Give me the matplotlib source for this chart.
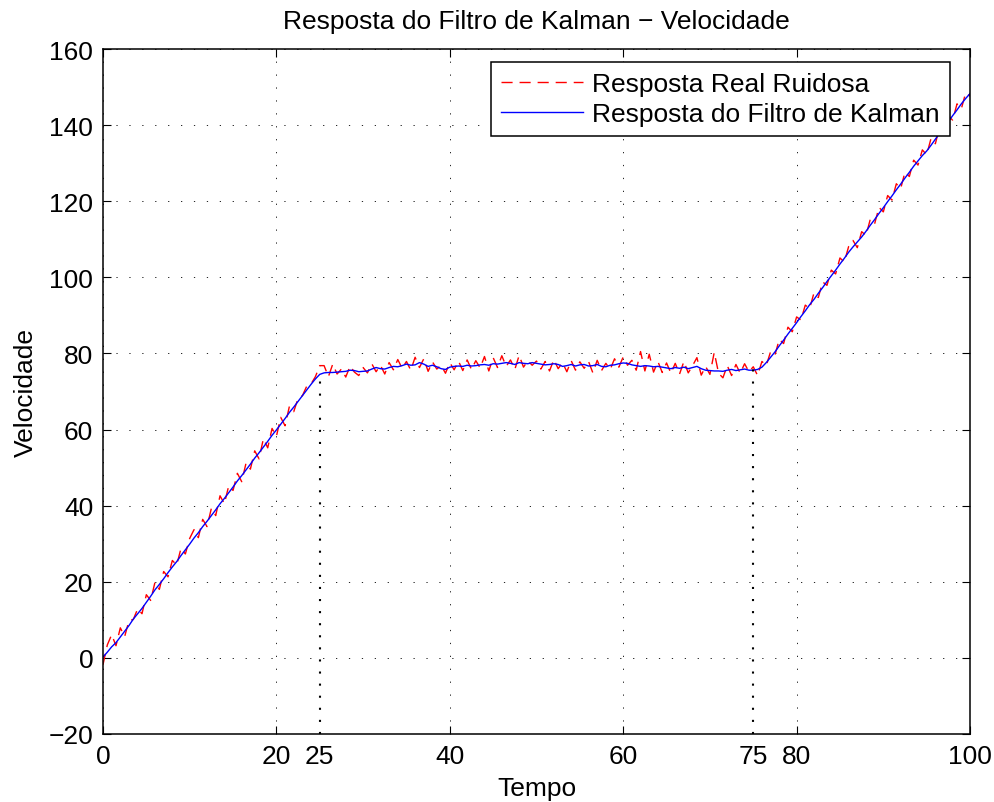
import numpy as np
import matplotlib
matplotlib.use("Agg")
import matplotlib.pyplot as plt

# ==================================================
# Data read off the reference (sampled every 0.5 s)
# ==================================================
noisy_ramp_up = [
    -1.8, 3.4, 6.1, 3.2, 7.9, 5.6, 9.8, 10.1, 12.9, 11.6,
    16.6, 15.1, 19.9, 18.0, 22.7, 21.3, 25.6, 24.4, 28.8, 27.3,
    31.4, 33.7, 31.6, 36.4, 34.5, 39.3, 37.4, 42.6, 40.5, 45.2,
    44.0, 48.5, 46.3, 51.2, 49.6, 54.4, 52.3, 57.6, 55.2, 60.3,
    58.2, 63.2, 61.0, 66.1, 64.7, 68.2, 68.9, 71.4, 72.0, 73.9,
    76.8,
]
noisy_plateau = [
    76.8, 73.9, 77.2, 74.6, 75.9, 73.8, 76.7, 75.1, 74.2, 76.3,
    74.9, 77.3, 75.2, 76.9, 74.6, 77.6, 75.7, 78.4, 76.1, 77.9,
    75.6, 79.0, 76.3, 78.6, 75.3, 77.8, 75.9, 76.9, 74.8, 77.6,
    75.7, 78.0, 75.5, 78.3, 75.8, 78.1, 76.2, 79.2, 75.4, 78.9,
    76.3, 79.4, 76.6, 78.3, 75.8, 79.5, 76.4, 78.1, 76.9, 78.0,
    75.9, 77.9, 75.4, 78.4, 76.0, 77.6, 75.2, 78.1, 75.6, 77.8,
    76.1, 77.9, 74.9, 78.2, 75.5, 77.4, 75.8, 78.6, 76.4, 79.1,
    76.9, 78.2, 75.6, 80.5, 75.4, 79.8, 75.1, 77.9, 75.0, 77.5,
    74.8, 77.4, 74.6, 77.9, 74.9, 76.8, 78.9, 74.3, 76.6, 74.5,
    80.3, 74.8, 73.6, 76.8, 74.2, 77.1, 74.8, 77.3, 75.2, 76.5,
]
noisy_ramp_2 = [
    74.2, 77.9, 76.8, 80.5, 79.6, 83.7, 82.6, 86.9, 85.7, 89.6,
    88.8, 92.7, 91.8, 95.9, 94.7, 98.8, 97.9, 101.9, 100.9, 105.1,
    104.0, 108.1, 109.7, 107.8, 112.0, 111.0, 115.3, 114.1, 118.4, 117.2,
    121.5, 120.3, 124.6, 123.3, 127.7, 126.5, 130.8, 129.5, 133.5, 132.2,
    136.5, 135.1, 139.6, 138.3, 142.4, 141.3, 145.6, 144.3, 148.5, 147.6,
]

kalman_ramp_up = [
    0.2, 1.5, 2.9, 4.0, 5.5, 7.0, 8.5, 10.2, 11.6, 13.0,
    14.6, 16.2, 17.9, 19.3, 20.8, 22.4, 23.9, 25.3, 26.9, 28.4,
    29.9, 31.5, 32.9, 34.5, 35.9, 37.4, 38.9, 40.5, 41.9, 43.4,
    44.9, 46.5, 47.9, 49.4, 50.9, 52.5, 53.9, 55.4, 56.9, 58.5,
    59.9, 61.4, 62.9, 64.5, 65.9, 67.4, 68.9, 70.4, 71.9, 73.3,
    74.5,
]
kalman_plateau = [
    74.9, 75.0, 75.0, 75.1, 75.2, 75.3, 75.6, 75.5, 75.2, 75.3,
    75.4, 75.9, 76.3, 76.0, 75.9, 76.3, 76.6, 76.5, 76.8, 77.2,
    76.9, 77.0, 77.6, 77.2, 76.6, 76.9, 76.5, 76.0, 75.8, 76.4,
    76.6, 76.7, 76.6, 76.9, 76.7, 76.8, 77.0, 77.1, 76.9, 77.3,
    77.2, 77.4, 77.6, 77.4, 77.1, 77.6, 77.4, 77.3, 77.6, 77.4,
    77.2, 77.0, 77.1, 77.3, 77.1, 76.6, 76.8, 77.1, 76.7, 77.0,
    77.1, 76.7, 76.8, 77.1, 76.6, 76.5, 76.9, 77.0, 77.3, 77.5,
    77.4, 77.0, 76.8, 76.6, 76.8, 76.7, 76.5, 76.6, 76.4, 76.2,
    76.0, 76.3, 76.1, 76.4, 76.0, 76.3, 76.6, 76.0, 75.6, 75.5,
    75.4, 75.4, 75.3, 75.6, 75.8, 75.5, 75.7, 75.9, 75.6, 75.6,
]
kalman_ramp_2 = [
    75.8, 76.4, 77.6, 79.0, 80.4, 82.0, 83.5, 85.1, 86.6, 88.1,
    89.7, 91.2, 92.8, 94.2, 95.8, 97.3, 98.9, 100.4, 101.9, 103.5,
    105.0, 106.6, 108.0, 109.3, 110.6, 112.1, 113.7, 115.2, 116.8, 118.3,
    119.9, 121.4, 123.0, 124.5, 126.1, 127.6, 129.2, 130.6, 132.0, 133.2,
    134.7, 136.3, 137.9, 139.4, 140.9, 142.5, 144.0, 145.6, 147.0, 148.3,
]

# marked instants (start / end of the plateau) and the speed there
mark_times = [25, 75]
mark_speeds = [75.0, 76.0]

x_ticks = [0, 20, 40, 60, 80, 100]
y_ticks = [-20, 0, 20, 40, 60, 80, 100, 120, 140, 160]


def main():
    plt.rcParams["font.family"] = ["Liberation Sans", "DejaVu Sans"]
    fs = 19

    t = np.linspace(0, 100, 201)
    v_noisy = np.concatenate([noisy_ramp_up, noisy_plateau, noisy_ramp_2])
    v_kalman = np.concatenate([kalman_ramp_up, kalman_plateau, kalman_ramp_2])

    fig = plt.figure(figsize=(9.95, 8.03), dpi=100)
    ax = fig.add_axes([0.1035, 0.0847, 0.8714, 0.853])

    ax.plot(t, v_noisy, color="red", linestyle=(0, (8, 5)), linewidth=1.0,
            label="Resposta Real Ruidosa")
    ax.plot(t, v_kalman, color="blue", linewidth=1.0,
            label="Resposta do Filtro de Kalman")

    # dotted markers at the plateau limits
    for tm, vm in zip(mark_times, mark_speeds):
        ax.plot([tm, tm], [-20, vm], color="black", linewidth=1.5,
                linestyle=(0, (1, 4.8)))

    ax.set_xlim(0, 100)
    ax.set_ylim(-20, 160)
    ax.set_xticks(x_ticks)
    ax.set_yticks(y_ticks)
    ax.set_xticks(mark_times, minor=True)
    ax.set_xticklabels([str(m) for m in mark_times], minor=True)
    ax.tick_params(which="major", direction="in", length=6, width=0.8,
                   top=True, right=True, labelsize=fs, pad=7)
    ax.tick_params(which="minor", length=0, labelsize=fs, pad=7)

    ax.grid(True, which="major", color="black", linewidth=0.6,
            linestyle=(0, (1.5, 14)))
    for s in ax.spines.values():
        s.set_linewidth(1.1)

    ax.set_xlabel("Tempo", fontsize=fs, labelpad=6)
    ax.set_ylabel("Velocidade", fontsize=fs, labelpad=8)
    ax.set_title("Resposta do Filtro de Kalman \u2212 Velocidade",
                 fontsize=fs, pad=15)

    leg = ax.legend(loc="upper right", bbox_to_anchor=(0.977, 0.981),
                    fontsize=fs, fancybox=False, framealpha=1,
                    edgecolor="black", borderpad=0.38, labelspacing=0.22,
                    handlelength=3.1, handletextpad=0.35, borderaxespad=0)
    leg.get_frame().set_linewidth(1.1)

    fig.savefig("out.png", dpi=100)


if __name__ == "__main__":
    main()
